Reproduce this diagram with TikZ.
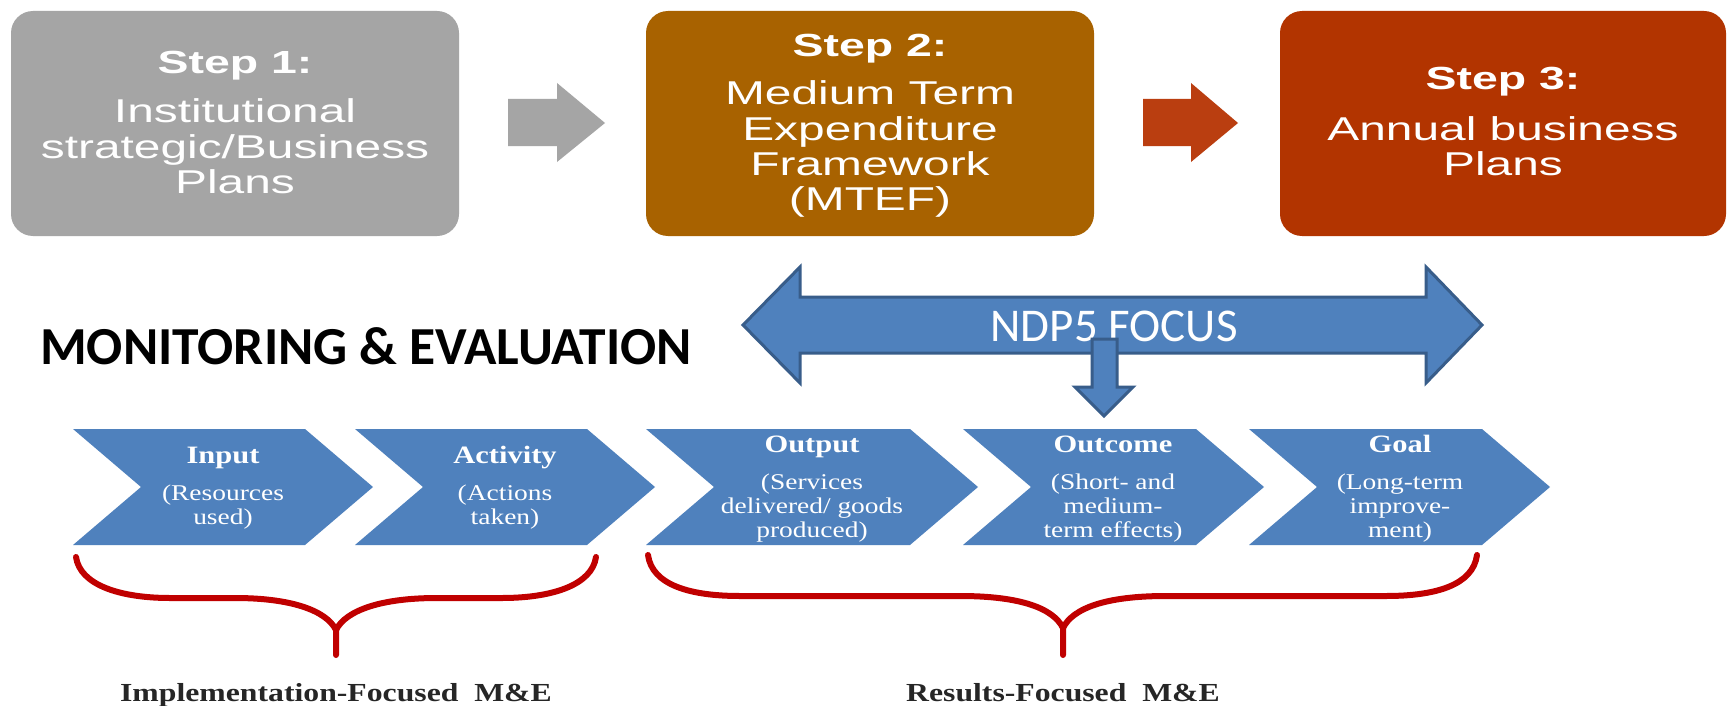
\documentclass[tikz,border=0pt]{standalone}
\usepackage{fontspec}
\newfontfamily\boxfont{Liberation Sans}[FakeStretch=1.45]
\newfontfamily\calfont{Carlito}
\newfontfamily\chevfont{Liberation Serif}[FakeStretch=1.22]
\definecolor{boxgray}{RGB}{165,165,165}
\definecolor{boxbrown}{RGB}{168,98,0}
\definecolor{boxred}{RGB}{178,52,0}
\definecolor{arrred}{RGB}{186,62,16}
\definecolor{ofblue}{RGB}{79,129,189}
\definecolor{ofborder}{RGB}{56,93,138}
\definecolor{bracered}{RGB}{192,0,0}
\tikzset{
  stepbox/.style={rounded corners=22pt, inner sep=0, minimum width=448pt, minimum height=225pt},
  boxtxt/.style={text=white, font=\boxfont\fontsize{33}{35}\selectfont, inner sep=0, anchor=base},
  boxhead/.style={text=white, font=\boxfont\bfseries\fontsize{32}{35}\selectfont, inner sep=0, anchor=base},
  bluearrow/.style={fill=ofblue, draw=ofborder, line width=3pt, line join=miter},
  chev/.style={fill=ofblue},
  chevhead/.style={text=white, font=\chevfont\bfseries\fontsize{25}{28}\selectfont, inner sep=0, anchor=base},
  chevtxt/.style={text=white, font=\chevfont\fontsize{22.5}{24}\selectfont, inner sep=0, anchor=base},
  bracepath/.style={draw=bracered, line width=6pt, line cap=round, line join=round},
  metxt/.style={text=black!85, font=\chevfont\bfseries\fontsize{26}{28}\selectfont, inner sep=0, anchor=base},
}
\begin{document}
\begin{tikzpicture}[x=1pt, y=-1pt]
\useasboundingbox (0,0) rectangle (1728,706);
\fill[white] (0,0) rectangle (1728,706);

% ---- Step boxes ----
\node[stepbox, fill=boxgray]  (s1) at (235,123.5) {};
\node[stepbox, fill=boxbrown] (s2) at (870,123.5) {};
\node[stepbox, fill=boxred, minimum width=446pt] (s3) at (1503,123.5) {};

\node[boxhead] (s1a) at (235,74) {Step 1:};
\node[boxtxt]  (s1b) at (235,123) {Institutional};
\node[boxtxt]  (s1c) at (235,158) {strategic/Business};
\node[boxtxt]  (s1d) at (235,193) {Plans};

\node[boxhead] (s2a) at (870,57) {Step 2:};
\node[boxtxt]  (s2b) at (870,105) {Medium Term};
\node[boxtxt]  (s2c) at (870,140) {Expenditure};
\node[boxtxt]  (s2d) at (870,175) {Framework};
\node[boxtxt]  (s2e) at (870,210) {(MTEF)};

\node[boxhead] (s3a) at (1503,90) {Step 3:};
\node[boxtxt]  (s3b) at (1503,140) {Annual business};
\node[boxtxt]  (s3c) at (1503,175) {Plans};

% block arrows between steps
\fill[boxgray] (508,99) -- (557,99) -- (557,83) -- (605,123) -- (557,162) -- (557,146) -- (508,146) -- cycle;
\fill[arrred] (1143,99) -- (1191,99) -- (1191,83) -- (1238,123) -- (1191,162) -- (1191,146) -- (1143,146) -- cycle;

% ---- NDP5 focus arrow ----
\draw[bluearrow] (743,325) -- (800,267) -- (800,297) -- (1426,297) -- (1426,267) -- (1482,325)
  -- (1426,383) -- (1426,353) -- (800,353) -- (800,383) -- cycle;
\node[text=white, font=\calfont\fontsize{47}{50}\selectfont, inner sep=0, anchor=base] (ndp) at (1114,341) {NDP5 FOCUS};
\draw[bluearrow] (1092,339) -- (1117,339) -- (1117,387) -- (1133,387) -- (1104,416) -- (1075,387) -- (1092,387) -- cycle;

% ---- title ----
\node[font=\calfont\bfseries\fontsize{53.5}{56}\selectfont, inner sep=0, anchor=base west] (me) at (40,364) {MONITORING \& EVALUATION};

% ---- chevrons ----
\fill[chev] (73,429) -- (305,429) -- (373,487) -- (305,545) -- (73,545) -- (141,487) -- cycle;
\fill[chev] (355,429) -- (587,429) -- (655,487) -- (587,545) -- (355,545) -- (423,487) -- cycle;
\fill[chev] (646,429) -- (910,429) -- (978,487) -- (910,545) -- (646,545) -- (714,487) -- cycle;
\fill[chev] (963,429) -- (1196,429) -- (1264,487) -- (1196,545) -- (963,545) -- (1031,487) -- cycle;
\fill[chev] (1249,429) -- (1482,429) -- (1550,487) -- (1482,545) -- (1249,545) -- (1317,487) -- cycle;

\node[chevhead] (c1a) at (223,463) {Input};
\node[chevtxt]  (c1b) at (223,500) {(Resources};
\node[chevtxt]  (c1c) at (223,524) {used)};

\node[chevhead] (c2a) at (505,463) {Activity};
\node[chevtxt]  (c2b) at (505,500) {(Actions};
\node[chevtxt]  (c2c) at (505,524) {taken)};

\node[chevhead] (c3a) at (812,452) {Output};
\node[chevtxt]  (c3b) at (812,489) {(Services};
\node[chevtxt]  (c3c) at (812,513) {delivered/ goods};
\node[chevtxt]  (c3d) at (812,537) {produced)};

\node[chevhead] (c4a) at (1113,452) {Outcome};
\node[chevtxt]  (c4b) at (1113,489) {(Short- and};
\node[chevtxt]  (c4c) at (1113,513) {medium-};
\node[chevtxt]  (c4d) at (1113,537) {term effects)};

\node[chevhead] (c5a) at (1400,452) {Goal};
\node[chevtxt]  (c5b) at (1400,489) {(Long-term};
\node[chevtxt]  (c5c) at (1400,513) {improve-};
\node[chevtxt]  (c5d) at (1400,537) {ment)};

% ---- braces ----
\draw[bracepath] (76,557) .. controls (80,585) and (120,598) .. (170,598) -- (235,598)
  .. controls (290,598) and (326,610) .. (336,630) -- (336,655);
\draw[bracepath] (596,557) .. controls (592,585) and (552,598) .. (502,598) -- (437,598)
  .. controls (382,598) and (346,610) .. (336,630);

\draw[bracepath] (648,555) .. controls (652,585) and (690,596) .. (740,596) -- (960,596)
  .. controls (1020,596) and (1053,608) .. (1063,628) -- (1063,655);
\draw[bracepath] (1477,555) .. controls (1473,585) and (1436,596) .. (1386,596) -- (1166,596)
  .. controls (1106,596) and (1073,608) .. (1063,628);

\node[metxt] (impl) at (336,701) {Implementation-Focused\ \ M\&E};
\node[metxt] (res)  at (1063,701) {Results-Focused\ \ M\&E};
\end{tikzpicture}
\end{document}
